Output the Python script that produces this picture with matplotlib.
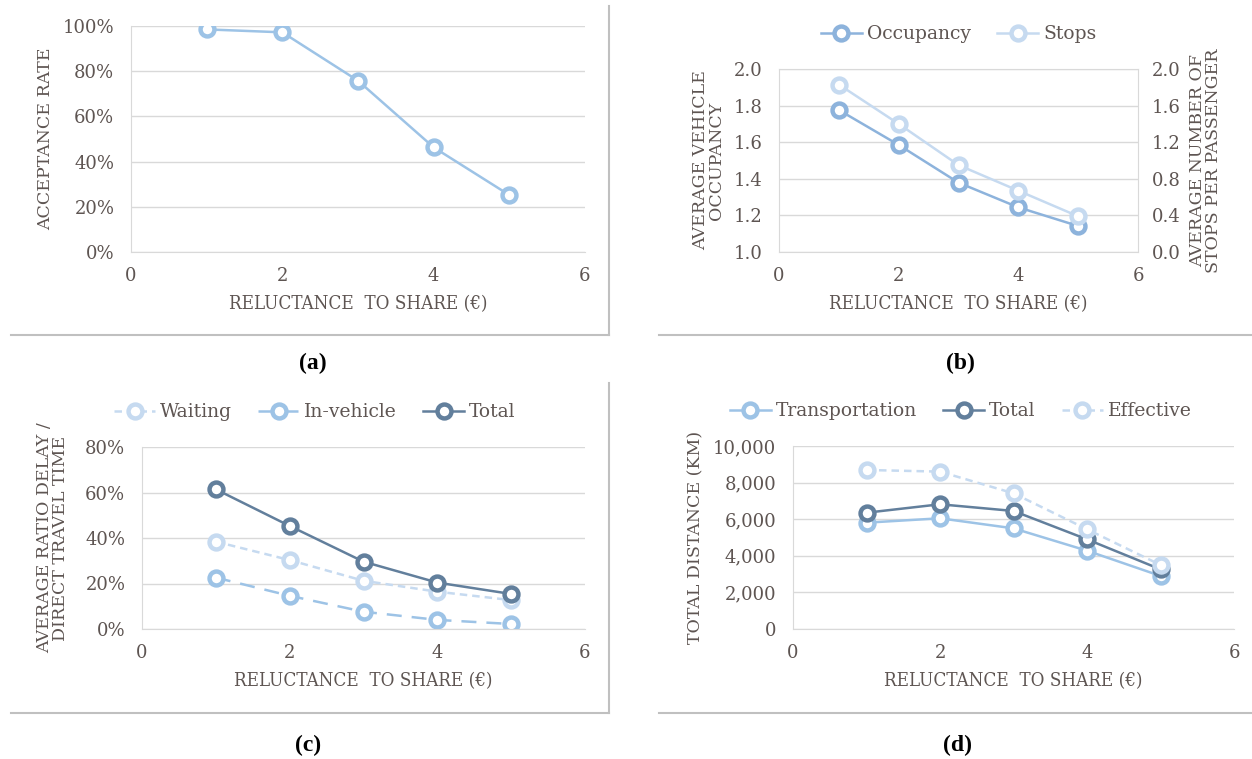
import matplotlib.pyplot as plt
from matplotlib.lines import Line2D
from matplotlib.ticker import FuncFormatter

# datos
reluctance = [1, 2, 3, 4, 5]
acceptance = [98.5, 97.2, 75.8, 46.3, 25.2]
occupancy = [1.776, 1.585, 1.379, 1.244, 1.142]
stops = [1.83, 1.40, 0.95, 0.67, 0.39]
waiting = [38.4, 30.3, 21.2, 16.4, 12.7]
in_vehicle = [22.6, 14.6, 7.6, 4.0, 2.2]
total_delay = [61.4, 45.3, 29.6, 20.4, 15.4]
transportation = [5810, 6050, 5500, 4280, 2900]
total_dist = [6355, 6815, 6450, 4900, 3260]
effective = [8690, 8600, 7415, 5450, 3500]

W, H = 1252, 759
TXT = '#5e5552'
GRID = '#d9d9d9'
LIGHT = '#c6daf0'
MID = '#9dc3e6'
OCC = '#8db3dc'
DARK = '#627f9c'

plt.rcParams['font.family'] = ['DejaVu Serif']
plt.rcParams['font.size'] = 12


def rect(x0, x1, y0, y1):
    return [x0 / W, 1 - y1 / H, (x1 - x0) / W, (y1 - y0) / H]


def style(ax):
    ax.set_xlim(0, 6)
    ax.set_xticks([0, 2, 4, 6])
    ax.grid(axis='y', color=GRID, lw=1)
    ax.set_axisbelow(True)
    for s in ax.spines.values():
        s.set_visible(False)
    ax.spines['left'].set_visible(True)
    ax.spines['bottom'].set_visible(True)
    ax.spines['left'].set_color(GRID)
    ax.spines['bottom'].set_color(GRID)
    ax.tick_params(length=0, colors=TXT, labelsize=13)
    ax.tick_params(axis='x', pad=11)
    ax.tick_params(axis='y', pad=12)
    ax.set_xlabel('RELUCTANCE  TO SHARE (€)', color=TXT, fontsize=13.5,
                  fontstretch='condensed', labelpad=7)


def serie(ax, y, color, ls='-', label=None):
    return ax.plot(reluctance, y, color=color, ls=ls, lw=1.8, marker='o', ms=10,
                   mfc='white', mec=color, mew=3.2, label=label)[0]


def leyenda(ax, handles, x, ncol):
    ax.legend(handles=handles, loc='lower center', bbox_to_anchor=(x, 1.10), ncol=ncol,
              frameon=False, fontsize=13.5, labelcolor=TXT, handlelength=2.2,
              columnspacing=1.4, handletextpad=0.25, borderaxespad=0)


pct = FuncFormatter(lambda v, p: f'{v:.0f}%')

fig = plt.figure(figsize=(W / 100, H / 100), dpi=100)

# (a)
ax = fig.add_axes(rect(131, 585, 26, 252))
serie(ax, acceptance, MID)
style(ax)
ax.set_ylim(0, 100)
ax.set_yticks(range(0, 101, 20))
ax.yaxis.set_major_formatter(pct)
ax.set_ylabel('ACCEPTANCE RATE', color=TXT, fontsize=12.5, labelpad=6)

# (b)
ax = fig.add_axes(rect(779, 1138, 69, 252))
h1 = serie(ax, occupancy, OCC, label='Occupancy')
style(ax)
ax.set_ylim(1.0, 2.0)
ax.set_yticks([1.0, 1.2, 1.4, 1.6, 1.8, 2.0])
ax.yaxis.set_major_formatter(FuncFormatter(lambda v, p: f'{v:.1f}'))
ax.spines['top'].set_visible(True)
ax.spines['top'].set_color(GRID)
ax.set_ylabel('AVERAGE VEHICLE\nOCCUPANCY', color=TXT, fontsize=12.5, labelpad=6,
              linespacing=0.9)
ax2 = ax.twinx()
h2 = serie(ax2, stops, LIGHT, label='Stops')
ax2.set_ylim(0, 2.0)
ax2.set_yticks([0.0, 0.4, 0.8, 1.2, 1.6, 2.0])
ax2.yaxis.set_major_formatter(FuncFormatter(lambda v, p: f'{v:.1f}'))
for s in ax2.spines.values():
    s.set_visible(False)
ax2.spines['right'].set_visible(True)
ax2.spines['right'].set_color(GRID)
ax2.tick_params(length=0, colors=TXT, labelsize=13, pad=10)
ax2.set_ylabel('AVERAGE NUMBER OF\nSTOPS PER PASSENGER', color=TXT, fontsize=12.5,
               labelpad=6, linespacing=0.9)
leyenda(ax, [h1, h2], 0.5, 2)

# (c)
ax = fig.add_axes(rect(142, 585, 447, 629))
h1 = serie(ax, waiting, LIGHT, ls=(0, (3, 2)), label='Waiting')
h2 = serie(ax, in_vehicle, MID, ls=(0, (6, 4)), label='In-vehicle')
h3 = serie(ax, total_delay, DARK, label='Total')
style(ax)
ax.set_ylim(0, 80)
ax.set_yticks(range(0, 81, 20))
ax.yaxis.set_major_formatter(pct)
ax.set_ylabel('AVERAGE RATIO DELAY /\nDIRECT TRAVEL TIME', color=TXT, fontsize=12.5,
              labelpad=12, linespacing=0.9)
leyenda(ax, [h1, h2, h3], 0.39, 3)

# (d)
ax = fig.add_axes(rect(793, 1234, 446, 629))
h1 = serie(ax, transportation, MID, label='Transportation')
h2 = serie(ax, total_dist, DARK, label='Total')
h3 = serie(ax, effective, LIGHT, ls=(0, (3, 2)), label='Effective')
style(ax)
ax.set_ylim(0, 10000)
ax.set_yticks(range(0, 10001, 2000))
ax.yaxis.set_major_formatter(FuncFormatter(lambda v, p: f'{v:,.0f}'))
ax.set_ylabel('TOTAL DISTANCE (KM)', color=TXT, fontsize=12.5, labelpad=6)
leyenda(ax, [h1, h2, h3], 0.38, 3)

# marcos de los graficos
BORDER = '#c0c0c0'
for yb, yt in [(335, 6), (713, 383)]:
    fig.add_artist(Line2D([11 / W, 609 / W], [1 - yb / H] * 2, color=BORDER, lw=1.5))
    fig.add_artist(Line2D([609 / W] * 2, [1 - yb / H, 1 - yt / H], color=BORDER, lw=1.5))
    fig.add_artist(Line2D([659 / W, 1], [1 - yb / H] * 2, color=BORDER, lw=1.5))

# etiquetas de los paneles
for lab, x, y in [('(a)', 313, 363), ('(b)', 960, 363), ('(c)', 308, 745), ('(d)', 958, 745)]:
    fig.text(x / W, 1 - y / H, lab, ha='center', va='center', fontsize=17,
             fontweight='bold', family='Liberation Serif', color='black')

fig.savefig('out.png', dpi=100)
